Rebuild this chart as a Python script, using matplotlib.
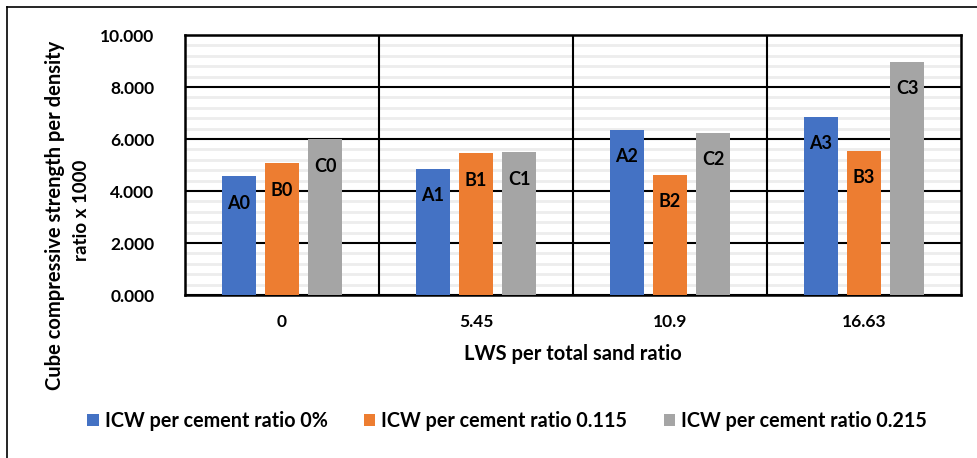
import matplotlib
matplotlib.use("Agg")
import matplotlib.pyplot as plt
import numpy as np
from matplotlib.lines import Line2D
from matplotlib.patches import Patch

plt.rcParams['font.family'] = ['Lato', 'DejaVu Sans']
plt.rcParams['font.weight'] = 'bold'

categories = ["0", "5.45", "10.9", "16.63"]
series_names = ["ICW per cement ratio 0%", "ICW per cement ratio 0.115", "ICW per cement ratio 0.215"]
values_a = [4.58, 4.86, 6.35, 6.85]
values_b = [5.06, 5.46, 4.63, 5.55]
values_c = [6.00, 5.49, 6.24, 8.97]
labels_a = ["A0", "A1", "A2", "A3"]
labels_b = ["B0", "B1", "B2", "B3"]
labels_c = ["C0", "C1", "C2", "C3"]
colors = ["#4472C4", "#ED7D31", "#A5A5A5"]
ylabel_lines = ["Cube compressive strength per density", "ratio x 1000"]

fig = plt.figure(figsize=(9.78, 4.58), dpi=100)
ax = fig.add_axes([185/978, 1-295/458, (961-185)/978, (295-35)/458])

x = np.arange(len(categories))
bw = 0.175
step = 0.222
series = [values_a, values_b, values_c]
labs = [labels_a, labels_b, labels_c]
for i, (vals, lb, c) in enumerate(zip(series, labs, colors)):
    pos = x + (i - 1) * step
    ax.bar(pos, vals, width=bw, color=c, zorder=3, label=series_names[i])
    for px, v, t in zip(pos, vals, lb):
        ax.annotate(t, (px, v), xytext=(0, -19.5), textcoords='offset points',
                    ha='center', va='center', fontsize=13, fontweight='bold',
                    color='black', zorder=4)

ax.set_xlim(-0.5, 3.5)
ax.set_ylim(0, 10)
yt = np.arange(0, 10.01, 2)
ax.set_yticks(yt)
ax.set_yticklabels([f"{v:.3f}" for v in yt])
ax.set_yticks(np.arange(0, 10.01, 0.4), minor=True)
ax.set_xticks(x)
ax.set_xticklabels(categories)
ax.tick_params(axis='both', which='both', length=0, labelsize=12.5)
ax.yaxis.set_tick_params(which='major', pad=22)
ax.xaxis.set_tick_params(which='major', pad=14)
for t in ax.get_xticklabels() + ax.get_yticklabels():
    t.set_fontweight('bold')

ax.grid(axis='y', which='minor', color='#EDEDED', linewidth=2, zorder=1)
ax.grid(axis='y', which='major', color='black', linewidth=1.5, zorder=2)
for b in [0.5, 1.5, 2.5]:
    ax.axvline(b, color='black', linewidth=1.5, zorder=2)
for s in ax.spines.values():
    s.set_color('black')
    s.set_linewidth(1.8)

ax.set_xlabel("LWS per total sand ratio", fontsize=14.5, fontweight='bold', va='center')
ax.xaxis.set_label_coords(0.5, -(354-295)/260)

# y axis title (two centred lines)
fig.text(55/978, 1-215/458, ylabel_lines[0], rotation=90, ha='center', va='center',
         fontsize=14.5, fontweight='bold')
fig.text(82/978, 1-210/458, ylabel_lines[1], rotation=90, ha='center', va='center',
         fontsize=13.5, fontweight='bold')

handles = [Patch(facecolor=c, edgecolor='none') for c in colors]
fig.legend(handles, series_names, loc='center', bbox_to_anchor=(507/978, 1-421/458),
           ncol=3, frameon=False, handlelength=0.57, handleheight=0.57,
           handletextpad=0.3, columnspacing=1.85, borderpad=0,
           prop={'weight': 'bold', 'size': 14.2})

# outer border (left and top)
fig.add_artist(Line2D([7/978, 7/978], [0, 1-7/458], color='black', linewidth=1.2, transform=fig.transFigure))
fig.add_artist(Line2D([7/978, 1], [1-7/458, 1-7/458], color='black', linewidth=1.2, transform=fig.transFigure))

fig.savefig("out.png", dpi=100)
